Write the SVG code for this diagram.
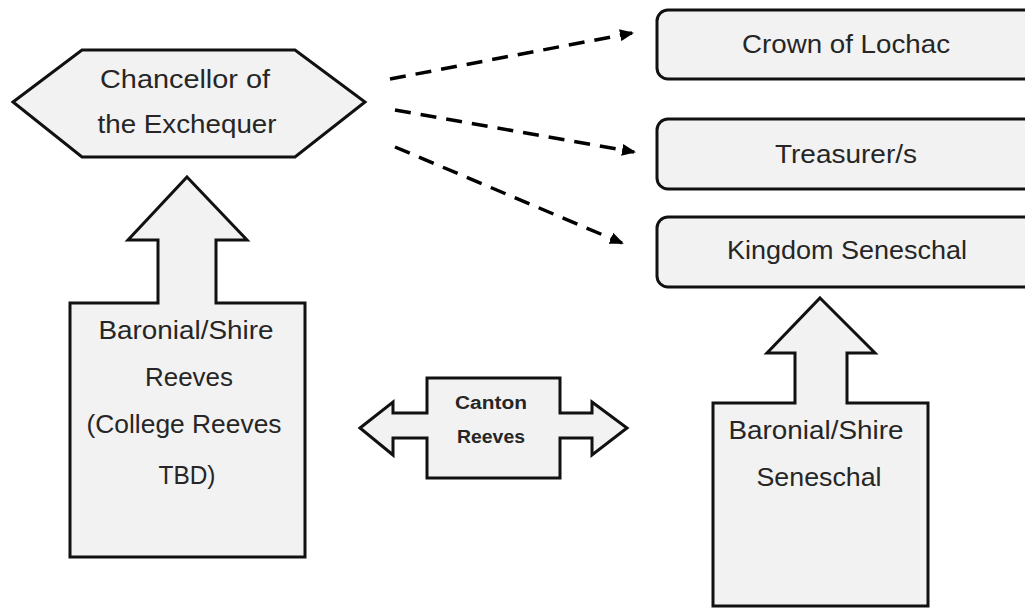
<svg xmlns="http://www.w3.org/2000/svg" width="1025" height="609" viewBox="0 0 1025 609">
<style>
.shape{fill:#f2f2f2;stroke:#111;stroke-width:3;stroke-linejoin:miter}
.t{font-family:"Liberation Sans",Arial,sans-serif;font-size:25px;fill:#262626;text-anchor:middle}
.tb{font-family:"Liberation Sans",Arial,sans-serif;font-size:18px;font-weight:bold;fill:#262626;text-anchor:middle}
.dash{fill:none;stroke:#000;stroke-width:3.5;stroke-dasharray:16 10}
</style>
<defs>
<marker id="ah" markerWidth="14" markerHeight="12" refX="12" refY="6" orient="auto" markerUnits="userSpaceOnUse" viewBox="0 0 14 12">
<path d="M0,0 L14,6 L0,12 Z" fill="#000"/>
</marker>
</defs>
<rect width="1025" height="609" fill="#fff"/>
<g id="connectors">
<line class="dash" x1="390" y1="79" x2="632" y2="33" marker-end="url(#ah)"/>
<line class="dash" x1="395" y1="110" x2="634" y2="152" marker-end="url(#ah)"/>
<line class="dash" x1="395" y1="147" x2="622" y2="243" marker-end="url(#ah)"/>
</g>
<g id="chancellor">
<polygon class="shape" points="13,102 82,50 295,50 365,102 295,157 82,157"/>
<text class="t" x="185" y="88" textLength="170" lengthAdjust="spacingAndGlyphs">Chancellor of</text>
<text class="t" x="187" y="133" textLength="179" lengthAdjust="spacingAndGlyphs">the Exchequer</text>
</g>
<g id="reeves">
<polygon class="shape" points="187,177 247,240 216,240 216,303 305,303 305,557 70,557 70,303 158,303 158,240 128,240"/>
<text class="t" x="186" y="339" textLength="175" lengthAdjust="spacingAndGlyphs">Baronial/Shire</text>
<text class="t" x="189" y="386" textLength="88" lengthAdjust="spacingAndGlyphs">Reeves</text>
<text class="t" x="184" y="433" textLength="195" lengthAdjust="spacingAndGlyphs">(College Reeves</text>
<text class="t" x="187" y="484" textLength="57" lengthAdjust="spacingAndGlyphs">TBD)</text>
</g>
<g id="canton">
<polygon class="shape" points="360,428 393,402 393,413 427,413 427,378 560,378 560,413 592,413 592,402 627,428 592,455 592,438 560,438 560,478 427,478 427,438 393,438 393,455"/>
<text class="tb" x="491" y="409" textLength="72" lengthAdjust="spacingAndGlyphs">Canton</text>
<text class="tb" x="491" y="443" textLength="68" lengthAdjust="spacingAndGlyphs">Reeves</text>
</g>
<g id="crown">
<rect class="shape" x="657" y="10" width="390" height="69" rx="11"/>
<text class="t" x="846" y="53" textLength="208" lengthAdjust="spacingAndGlyphs">Crown of Lochac</text>
</g>
<g id="treasurer">
<rect class="shape" x="657" y="119" width="390" height="70" rx="11"/>
<text class="t" x="846" y="163" textLength="142" lengthAdjust="spacingAndGlyphs">Treasurer/s</text>
</g>
<g id="kingdom-seneschal">
<rect class="shape" x="657" y="217" width="390" height="70" rx="11"/>
<text class="t" x="847" y="259" textLength="240" lengthAdjust="spacingAndGlyphs">Kingdom Seneschal</text>
</g>
<g id="seneschal">
<polygon class="shape" points="820,298 875,353 847,353 847,403 928,403 928,606 713,606 713,403 795,403 795,353 767,353"/>
<text class="t" x="816" y="439" textLength="175" lengthAdjust="spacingAndGlyphs">Baronial/Shire</text>
<text class="t" x="819" y="486" textLength="125" lengthAdjust="spacingAndGlyphs">Seneschal</text>
</g>
</svg>
